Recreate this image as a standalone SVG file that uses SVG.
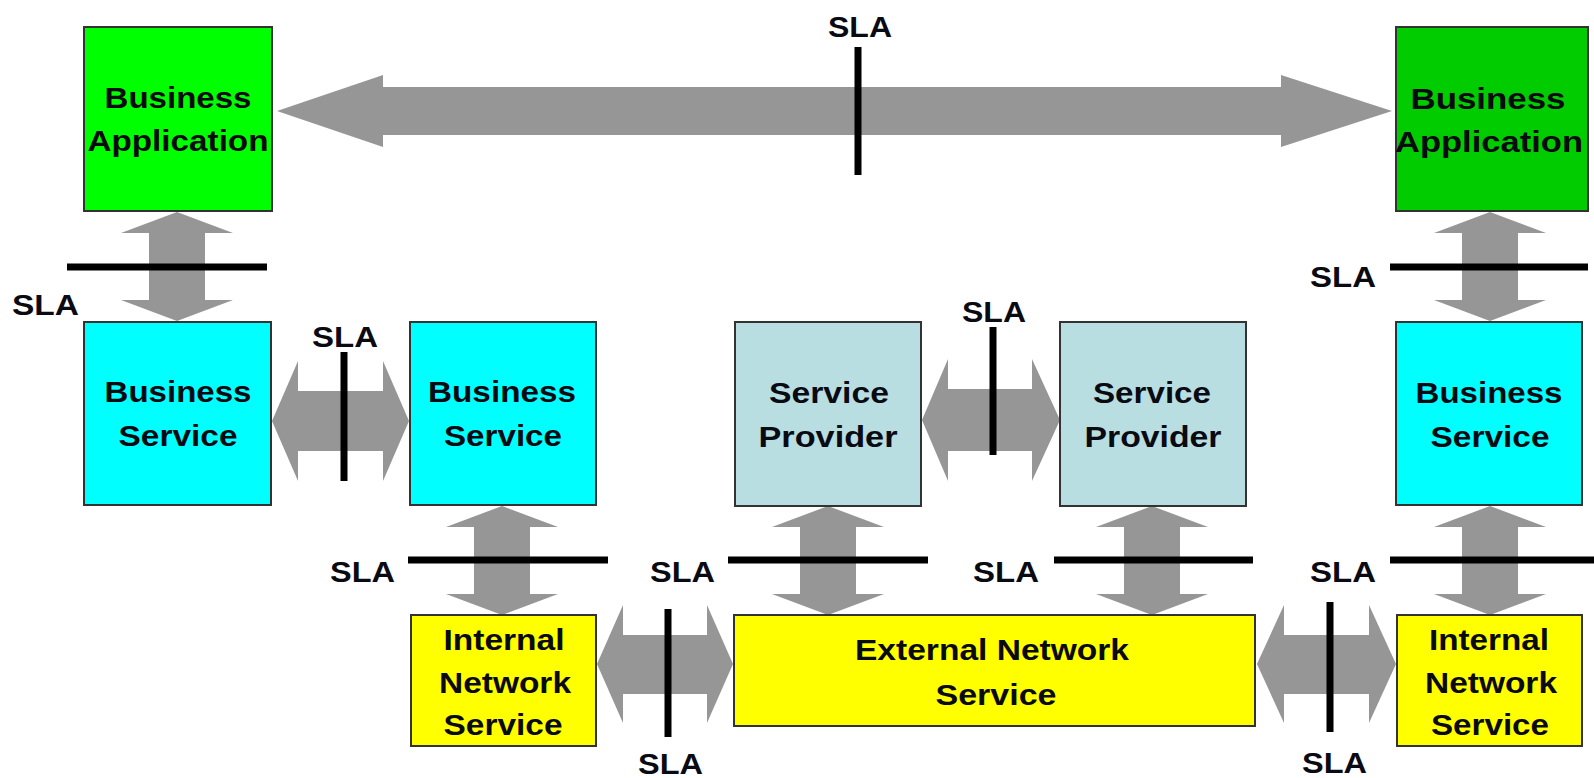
<svg xmlns="http://www.w3.org/2000/svg" width="1594" height="778" viewBox="0 0 1594 778">
  <style>
    .box { stroke: #333; stroke-width: 2; }
    .app1 { fill: #00ff00; }
    .app2 { fill: #00cc00; }
    .bsvc { fill: #00ffff; }
    .prov { fill: #b8dee2; }
    .net { fill: #ffff00; }
    .arrow { fill: #969696; }
    .sla { stroke: #000; stroke-width: 7; }
    text { font-family: "Liberation Sans", Arial, Helvetica, sans-serif; font-weight: bold; font-size: 30px; fill: #0a0a12; }
    .c { text-anchor: middle; }
  </style>
  <rect width="1594" height="778" fill="#ffffff"/>

  <!-- wide double arrows between components -->
  <g id="connectors">
    <polygon class="arrow" points="277,111 383,75 383,87 1281,87 1281,75 1392,111 1281,147 1281,135 383,135 383,147"/>
    <polygon class="arrow" points="272,421 298,361 298,391 383,391 383,361 409,421 383,481 383,451 298,451 298,481"/>
    <polygon class="arrow" points="922,420 948,359 948,389 1032,389 1032,359 1060,420 1032,481 1032,451 948,451 948,481"/>
    <polygon class="arrow" points="597,664 623,605 623,635 707,635 707,605 733,664 707,723 707,694 623,694 623,723"/>
    <polygon class="arrow" points="1257,664 1284,605 1284,635 1369,635 1369,605 1396,664 1369,723 1369,694 1284,694 1284,723"/>
    <polygon class="arrow" points="177,212 233,233 205,233 205,300 233,300 177,321 121,300 149,300 149,233 121,233"/>
    <polygon class="arrow" points="1490,212 1546,233 1518,233 1518,300 1546,300 1490,321 1434,300 1462,300 1462,233 1434,233"/>
    <polygon class="arrow" points="502,506 558,527 530,527 530,594 558,594 502,615 446,594 474,594 474,527 446,527"/>
    <polygon class="arrow" points="828,506 884,527 856,527 856,594 884,594 828,615 772,594 800,594 800,527 772,527"/>
    <polygon class="arrow" points="1152,506 1208,527 1180,527 1180,594 1208,594 1152,615 1096,594 1124,594 1124,527 1096,527"/>
    <polygon class="arrow" points="1490,506 1546,527 1518,527 1518,594 1546,594 1490,615 1434,594 1462,594 1462,527 1434,527"/>
  </g>

  <g id="business-application-left">
    <rect class="box app1" x="84" y="27" width="188" height="184"/>
    <text class="c" x="178" y="108" textLength="147" lengthAdjust="spacingAndGlyphs">Business</text>
    <text class="c" x="178" y="151" textLength="181" lengthAdjust="spacingAndGlyphs">Application</text>
  </g>
  <g id="business-application-right">
    <rect class="box app2" x="1396" y="27" width="192" height="184"/>
    <text class="c" x="1488" y="109" textLength="155" lengthAdjust="spacingAndGlyphs">Business</text>
    <text class="c" x="1489" y="152" textLength="188" lengthAdjust="spacingAndGlyphs">Application</text>
  </g>
  <g id="business-service-1">
    <rect class="box bsvc" x="84" y="322" width="187" height="183"/>
    <text class="c" x="178" y="402" textLength="147" lengthAdjust="spacingAndGlyphs">Business</text>
    <text class="c" x="178" y="446" textLength="119" lengthAdjust="spacingAndGlyphs">Service</text>
  </g>
  <g id="business-service-2">
    <rect class="box bsvc" x="410" y="322" width="186" height="183"/>
    <text class="c" x="502" y="402" textLength="148" lengthAdjust="spacingAndGlyphs">Business</text>
    <text class="c" x="503" y="446" textLength="118" lengthAdjust="spacingAndGlyphs">Service</text>
  </g>
  <g id="service-provider-1">
    <rect class="box prov" x="735" y="322" width="186" height="184"/>
    <text class="c" x="829" y="403" textLength="120" lengthAdjust="spacingAndGlyphs">Service</text>
    <text class="c" x="828" y="447" textLength="139" lengthAdjust="spacingAndGlyphs">Provider</text>
  </g>
  <g id="service-provider-2">
    <rect class="box prov" x="1060" y="322" width="186" height="184"/>
    <text class="c" x="1152" y="403" textLength="118" lengthAdjust="spacingAndGlyphs">Service</text>
    <text class="c" x="1153" y="447" textLength="137" lengthAdjust="spacingAndGlyphs">Provider</text>
  </g>
  <g id="business-service-3">
    <rect class="box bsvc" x="1396" y="322" width="186" height="183"/>
    <text class="c" x="1489" y="403" textLength="147" lengthAdjust="spacingAndGlyphs">Business</text>
    <text class="c" x="1490" y="447" textLength="119" lengthAdjust="spacingAndGlyphs">Service</text>
  </g>
  <g id="internal-network-service-1">
    <rect class="box net" x="411" y="615" width="185" height="131"/>
    <text class="c" x="504" y="650" textLength="121" lengthAdjust="spacingAndGlyphs">Internal</text>
    <text class="c" x="505" y="693" textLength="132" lengthAdjust="spacingAndGlyphs">Network</text>
    <text class="c" x="503" y="735" textLength="119" lengthAdjust="spacingAndGlyphs">Service</text>
  </g>
  <g id="external-network-service">
    <rect class="box net" x="734" y="615" width="521" height="111"/>
    <text class="c" x="992" y="660" textLength="274" lengthAdjust="spacingAndGlyphs">External Network</text>
    <text class="c" x="996" y="705" textLength="121" lengthAdjust="spacingAndGlyphs">Service</text>
  </g>
  <g id="internal-network-service-2">
    <rect class="box net" x="1397" y="615" width="185" height="131"/>
    <text class="c" x="1489" y="650" textLength="120" lengthAdjust="spacingAndGlyphs">Internal</text>
    <text class="c" x="1491" y="693" textLength="132" lengthAdjust="spacingAndGlyphs">Network</text>
    <text class="c" x="1490" y="735" textLength="118" lengthAdjust="spacingAndGlyphs">Service</text>
  </g>

  <!-- SLA boundary marks and their labels -->
  <g id="sla-marks">
    <line class="sla" x1="858" y1="47" x2="858" y2="175"/>
    <line class="sla" x1="67" y1="267" x2="267" y2="267"/>
    <line class="sla" x1="1390" y1="267" x2="1588" y2="267"/>
    <line class="sla" x1="344" y1="352" x2="344" y2="481"/>
    <line class="sla" x1="993" y1="327" x2="993" y2="455"/>
    <line class="sla" x1="408" y1="560" x2="608" y2="560"/>
    <line class="sla" x1="728" y1="560" x2="928" y2="560"/>
    <line class="sla" x1="1054" y1="560" x2="1253" y2="560"/>
    <line class="sla" x1="1390" y1="560" x2="1594" y2="560"/>
    <line class="sla" x1="668" y1="609" x2="668" y2="737"/>
    <line class="sla" x1="1330" y1="602" x2="1330" y2="732"/>
    <text x="828" y="37" textLength="64" lengthAdjust="spacingAndGlyphs">SLA</text>
    <text x="12" y="315" textLength="67" lengthAdjust="spacingAndGlyphs">SLA</text>
    <text x="1310" y="287" textLength="66" lengthAdjust="spacingAndGlyphs">SLA</text>
    <text x="312" y="347" textLength="66" lengthAdjust="spacingAndGlyphs">SLA</text>
    <text x="962" y="322" textLength="64" lengthAdjust="spacingAndGlyphs">SLA</text>
    <text x="330" y="582" textLength="65" lengthAdjust="spacingAndGlyphs">SLA</text>
    <text x="650" y="582" textLength="65" lengthAdjust="spacingAndGlyphs">SLA</text>
    <text x="973" y="582" textLength="66" lengthAdjust="spacingAndGlyphs">SLA</text>
    <text x="1310" y="582" textLength="66" lengthAdjust="spacingAndGlyphs">SLA</text>
    <text x="638" y="774" textLength="65" lengthAdjust="spacingAndGlyphs">SLA</text>
    <text x="1302" y="773" textLength="65" lengthAdjust="spacingAndGlyphs">SLA</text>
  </g>
</svg>
